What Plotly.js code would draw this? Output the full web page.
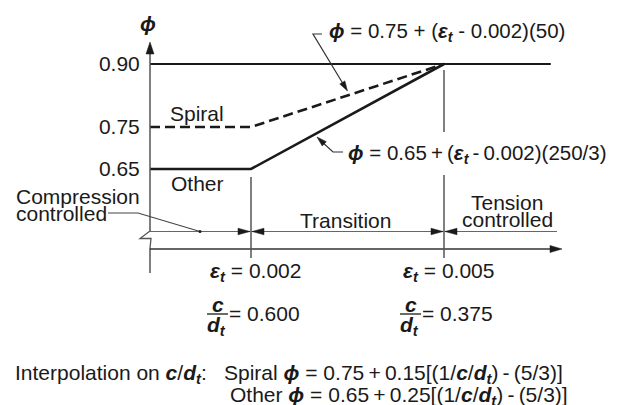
<!DOCTYPE html>
<html><head><meta charset="utf-8">
<script src="https://cdn.plot.ly/plotly-3.0.1.min.js"></script>
<style>html,body{margin:0;padding:0;background:#fff}</style>
</head><body><div id="chart" style="width:621px;height:405px"></div>
<script>
// ---- data ----
const strainLimits = [0.002, 0.005];          // compression / tension controlled limits
const cOverDt = ['0.600', '0.375'];           // c/dt at the limits
const tensionStrain = [0.00043, 0.00666];
const tensionPhi = [0.90, 0.90];
const spiralStrain = [0.00043, 0.002, 0.005];
const spiralPhi = [0.75, 0.75, 0.90];
const otherStrain = [0.00043, 0.002, 0.005];
const otherPhi = [0.65, 0.65, 0.90];
const phiTicks = [0.65, 0.75, 0.90];
const phiTickLabels = ['0.65', '0.75', '0.90'];

// ---- layout helpers (pixel -> data for decorations) ----
const W = 621, H = 405;
const xr = [-0.0019016, 0.0077512];
const yr = [0.088095, 1.052381];
const X = p => xr[0] + p / W * (xr[1] - xr[0]);
const Y = p => yr[1] - p / H * (yr[1] - yr[0]);
const PX = x => (x - xr[0]) / (xr[1] - xr[0]) * W;
const INK = '#1a1a1a', AX = '#555';
const FONT = 'Liberation Sans, Arial, sans-serif';
const FS = 21;
const TS = '\u2009';

const shapes = [];
function line(x0, y0, x1, y1, w, c) {
  shapes.push({type: 'line', xref: 'x', yref: 'y', x0: X(x0), y0: Y(y0), x1: X(x1), y1: Y(y1),
    line: {color: c || AX, width: w || 1.5}});
}
function poly(pts, closed, fill, w, c) {
  let d = pts.map((p, i) => (i ? 'L' : 'M') + X(p[0]) + ',' + Y(p[1])).join(' ');
  if (closed) d += ' Z';
  shapes.push({type: 'path', xref: 'x', yref: 'y', path: d,
    fillcolor: fill || 'rgba(0,0,0,0)', line: {color: c || AX, width: w === undefined ? 1.5 : w}});
}
function head(tx, ty, fx, fy, len, hw) {
  const dx = tx - fx, dy = ty - fy, L = Math.hypot(dx, dy);
  const ux = dx / L, uy = dy / L;
  const bx = tx - len * ux, by = ty - len * uy;
  poly([[tx, ty], [bx - hw * uy, by + hw * ux], [bx + hw * uy, by - hw * ux]], true, INK, 0.5, INK);
}

// axes
line(150, 50, 150, 231);
line(150, 248, 150, 273);
head(150, 42, 150, 60, 12, 4);
poly([[150, 231], [140, 238.5], [151, 238.5], [150, 248]], false, null, 1.3);
line(150, 249, 552, 249, 1.6, '#333');
head(562, 249, 540, 249, 12, 3.5);
// vertical limit lines
const p1 = PX(strainLimits[0]), p2 = PX(strainLimits[1]);
line(p1, 177, p1, 258);
line(p2, 70, p2, 132);
line(p2, 175, p2, 258);
// dimension line
line(150, 231.5, 557, 231.5, 1.2, '#666');
head(p1 - 1, 231.5, p1 - 20, 231.5, 12, 3.3);
head(p1 + 1, 231.5, p1 + 20, 231.5, 12, 3.3);
head(p2 - 1, 231.5, p2 - 20, 231.5, 12, 3.3);
head(p2 + 1, 231.5, p2 + 20, 231.5, 12, 3.3);
// compression leader
poly([[108, 213], [138, 213], [200, 231.5]], false, null, 1.1, '#444');
shapes.push({type: 'circle', xref: 'x', yref: 'y', x0: X(198.5), x1: X(201.5), y0: Y(230), y1: Y(233),
  fillcolor: INK, line: {width: 0}});
// equation leaders
poly([[322, 34], [313, 34], [345, 87]], false, null, 1.2, '#333');
head(347.5, 91, 313, 34, 10, 3);
poly([[343, 152], [333, 152], [321, 141]], false, null, 1.2, '#333');
head(317, 137, 333, 152, 10, 3);
// fraction bars
[p1, p2].forEach(p => line(p - 44, 314, p - 23, 314, 1.3, INK));

// ---- annotations ----
const ann = [];
function txt(x, y, t, anchor, size) {
  ann.push({xref: 'x', yref: 'y', x: X(x), y: Y(y), text: t, showarrow: false,
    xanchor: anchor || 'left', yanchor: 'middle', font: {family: FONT, size: size || FS, color: INK}});
}
const phi = '<b><i>ϕ</i></b>';
const eps = '<b><i>ε<sub>t</sub></i></b>';
const cdt = '<b><i>c</i></b>/<b><i>d<sub>t</sub></i></b>';
txt(148, 23, phi, 'center', 21);
txt(168, 113, 'Spiral');
txt(169, 183, 'Other');
txt(14, 196, 'Compression');
txt(14, 213, 'controlled');
txt(345, 220, 'Transition', 'center');
txt(507, 202, 'Tension', 'center');
txt(507, 219, 'controlled', 'center');
strainLimits.forEach((s, i) => {
  const p = PX(s);
  txt(p - 43, 272, eps + ' = ' + s.toFixed(3));
  txt(p - 33.5, 304, '<b><i>c</i></b>', 'center');
  txt(p - 35, 326, '<b><i>d<sub>t</sub></i></b>', 'center');
  txt(p - 24, 313, '= ' + cOverDt[i]);
});
txt(327, 32, phi + ' = 0.75 + (' + eps + ' - 0.002)(50)', 'left', 20.5);
txt(346, 154, phi + ' = 0.65' + TS + '+' + TS + '(' + eps + TS + '-' + TS + '0.002)(250/3)', 'left', 20.5);
txt(13, 374, 'Interpolation on ' + cdt + ':');
txt(222, 374, 'Spiral ' + phi + ' = 0.75' + TS + '+' + TS + '0.15[(1/' + cdt + ')' + TS + '-' + TS + '(5/3)]');
txt(228, 396, 'Other ' + phi + ' = 0.65' + TS + '+' + TS + '0.25[(1/' + cdt + ')' + TS + '-' + TS + '(5/3)]');

// ---- traces ----
const traces = [
  {x: tensionStrain, y: tensionPhi, mode: 'lines', line: {color: INK, width: 2.2}, name: 'Tension'},
  {x: spiralStrain, y: spiralPhi, mode: 'lines', line: {color: INK, width: 2.6, dash: '10px,5px'}, name: 'Spiral'},
  {x: otherStrain, y: otherPhi, mode: 'lines', line: {color: INK, width: 2.6}, name: 'Other'}
];

const layout = {
  width: W, height: H, margin: {l: 0, r: 0, t: 0, b: 0},
  paper_bgcolor: '#fff', plot_bgcolor: '#fff', showlegend: false,
  xaxis: {range: xr, visible: false, fixedrange: true},
  yaxis: {range: yr, anchor: 'free', position: 150 / W, showgrid: false, zeroline: false,
    showline: false, tickvals: phiTicks, ticktext: phiTickLabels, ticks: 'outside', ticklen: 6,
    tickcolor: 'rgba(0,0,0,0)', tickfont: {family: FONT, size: FS, color: INK}, fixedrange: true},
  shapes: shapes, annotations: ann
};
Plotly.newPlot('chart', traces, layout, {displayModeBar: false, staticPlot: true});
</script></body></html>
